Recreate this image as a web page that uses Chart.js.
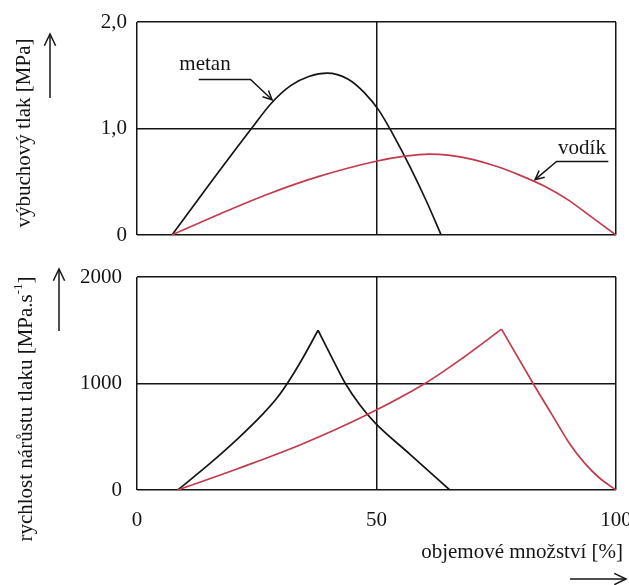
<!DOCTYPE html>
<html>
<head>
<meta charset="utf-8">
<script src="https://cdn.jsdelivr.net/npm/chart.js@4/dist/chart.umd.min.js"></script>
<style>
  html, body { margin: 0; padding: 0; background: #fff; }
  #wrap { position: relative; width: 629px; height: 585px; overflow: hidden; }
  canvas { position: absolute; left: 0; top: 0; }
</style>
</head>
<body>
<div id="wrap">
  <canvas id="topChart" width="629" height="585"></canvas>
  <canvas id="bottomChart" width="629" height="585"></canvas>
</div>
<script>
// Výbuchový tlak a rychlost nárůstu tlaku — metan / vodík

const xTicks = [0, 50, 100];
const xTickLabels = ['0', '50', '100'];

const pressureTicks = [0, 1, 2];
const pressureTickLabels = ['0', '1,0', '2,0'];

const rateTicks = [0, 1000, 2000];
const rateTickLabels = ['0', '1000', '2000'];

// horní graf — výbuchový tlak [MPa]
const metanPressX = [7.3, 15.5, 23.9, 28, 32, 36, 39.7, 44, 47.5, 50.5, 53.5, 57, 60.5, 63.5];
const metanPressY = [0, 0.5, 1.0, 1.235, 1.4, 1.49, 1.52, 1.465, 1.335, 1.17, 0.94, 0.64, 0.31, 0];

const vodikPressX = [7.3, 17.4, 27.7, 38, 49.7, 55.9, 61, 65, 70, 75, 80, 85, 90, 95, 100];
const vodikPressY = [0, 0.2, 0.39, 0.55, 0.69, 0.74, 0.76, 0.75, 0.71, 0.645, 0.56, 0.46, 0.33, 0.165, 0];

// dolní graf — rychlost nárůstu tlaku [MPa.s-1], vrchol je ostrý
const metanRateX = [8.5, 15, 21, 26, 29.5, 32.5, 35, 37.8, 40.5, 43.5, 46.5, 49.7, 57, 65.3];
const metanRateY = [0, 240, 480, 700, 880, 1080, 1270, 1500, 1260, 1000, 800, 630, 335, 0];

const vodikRateX = [8.5, 21, 34, 48.3, 60.1, 68, 76.1, 82.7, 86.6, 90.4, 93.5, 96.5, 100];
const vodikRateY = [0, 200, 423, 714, 1000, 1240, 1510, 1000, 710, 430, 250, 115, 0];

const FONT = '"Liberation Serif", "Times New Roman", serif';
const INK = '#151515';
const RED = '#c23b4c';

const toPoints = (xs, ys) => xs.map((x, i) => ({ x, y: ys[i] }));

// rozdělí křivku ve vrcholu na dvě hladké větve
function splitAtPeak(xs, ys) {
  const k = ys.indexOf(Math.max(...ys));
  return [
    toPoints(xs.slice(0, k + 1), ys.slice(0, k + 1)),
    toPoints(xs.slice(k), ys.slice(k)),
  ];
}

function drawArrow(ctx, pts, head) {
  ctx.beginPath();
  ctx.moveTo(pts[0][0], pts[0][1]);
  for (let i = 1; i < pts.length; i++) ctx.lineTo(pts[i][0], pts[i][1]);
  ctx.stroke();
  const [x1, y1] = pts[pts.length - 2];
  const [x2, y2] = pts[pts.length - 1];
  const a = Math.atan2(y2 - y1, x2 - x1);
  ctx.beginPath();
  ctx.moveTo(x2 - head * Math.cos(a - 0.45), y2 - head * Math.sin(a - 0.45));
  ctx.lineTo(x2, y2);
  ctx.lineTo(x2 - head * Math.cos(a + 0.45), y2 - head * Math.sin(a + 0.45));
  ctx.stroke();
}

// popisky křivek (metan, vodík) se šipkou — v datových souřadnicích
const curveLabelsPlugin = {
  id: 'curveLabels',
  afterDatasetsDraw(chart) {
    const labels = chart.config.options._curveLabels;
    if (!labels) return;
    const { ctx, scales } = chart;
    const px = (p) => [scales.x.getPixelForValue(p[0]), scales.y.getPixelForValue(p[1])];
    ctx.save();
    ctx.strokeStyle = INK;
    ctx.fillStyle = INK;
    ctx.lineWidth = 1.5;
    ctx.font = '21px ' + FONT;
    ctx.textAlign = 'center';
    ctx.textBaseline = 'middle';
    for (const l of labels) {
      const [tx, ty] = px(l.at);
      ctx.fillText(l.text, tx, ty);
      drawArrow(ctx, l.leader.map(px), 10);
    }
    ctx.restore();
  },
};

// názvy os a šipky
const axisTitlesPlugin = {
  id: 'axisTitles',
  afterDraw(chart) {
    const { ctx } = chart;
    ctx.save();
    ctx.fillStyle = INK;
    ctx.strokeStyle = INK;
    ctx.lineWidth = 1.5;
    ctx.font = '21px ' + FONT;
    ctx.textBaseline = 'middle';

    // horní osa y
    ctx.save();
    ctx.translate(24, 133);
    ctx.rotate(-Math.PI / 2);
    ctx.textAlign = 'center';
    ctx.fillText('výbuchový tlak [MPa]', 0, 0);
    ctx.restore();

    // dolní osa y s horním indexem
    ctx.save();
    ctx.translate(26, 409);
    ctx.rotate(-Math.PI / 2);
    ctx.textAlign = 'left';
    const main = 'rychlost nárůstu tlaku [MPa.s';
    const sup = '-1';
    const tail = ']';
    const wMain = ctx.measureText(main).width;
    ctx.font = '13px ' + FONT;
    const wSup = ctx.measureText(sup).width;
    ctx.font = '21px ' + FONT;
    const wTail = ctx.measureText(tail).width;
    let x0 = -(wMain + wSup + wTail) / 2;
    ctx.fillText(main, x0, 0);
    x0 += wMain;
    ctx.font = '13px ' + FONT;
    ctx.fillText(sup, x0, -7);
    x0 += wSup;
    ctx.font = '21px ' + FONT;
    ctx.fillText(tail, x0, 0);
    ctx.restore();

    // osa x
    ctx.textAlign = 'right';
    ctx.fillText('objemové množství [%]', 623, 552);

    drawArrow(ctx, [[50, 98], [50, 34]], 13);
    drawArrow(ctx, [[59, 331], [59, 269]], 13);
    drawArrow(ctx, [[570, 579], [626, 579]], 13);
    ctx.restore();
  },
};

function makeOptions(cfg) {
  return {
    responsive: false,
    animation: false,
    layout: { padding: { left: 0, right: 13, top: cfg.top, bottom: cfg.bottomPad } },
    plugins: { legend: { display: false }, tooltip: { enabled: false } },
    _curveLabels: cfg.curveLabels,
    scales: {
      x: {
        type: 'linear',
        min: 0,
        max: 100,
        afterBuildTicks: (s) => { s.ticks = xTicks.map((v) => ({ value: v })); },
        afterFit: (s) => { s.height = cfg.xHeight; s.paddingLeft = 0; s.paddingRight = 0; },
        ticks: {
          display: cfg.showX,
          padding: 18,
          color: INK,
          font: { family: FONT, size: 21 },
          callback: (v) => xTickLabels[xTicks.indexOf(v)],
        },
        grid: { color: INK, lineWidth: 1.5, drawTicks: false },
        border: { display: false },
      },
      y: {
        min: cfg.yTicks[0],
        max: cfg.yTicks[cfg.yTicks.length - 1],
        afterBuildTicks: (s) => { s.ticks = cfg.yTicks.map((v) => ({ value: v })); },
        afterFit: (s) => { s.width = 137; s.paddingTop = 0; s.paddingBottom = 0; },
        ticks: {
          padding: cfg.yPad,
          color: INK,
          font: { family: FONT, size: 21 },
          callback: (v) => cfg.yTickLabels[cfg.yTicks.indexOf(v)],
        },
        grid: { color: INK, lineWidth: 1.5, drawTicks: false },
        border: { display: false },
      },
    },
  };
}

function lineDataset(label, points, color) {
  return {
    label,
    data: points,
    borderColor: color,
    borderWidth: 1.7,
    pointRadius: 0,
    fill: false,
    cubicInterpolationMode: 'monotone',
  };
}

new Chart(document.getElementById('topChart').getContext('2d'), {
  type: 'line',
  plugins: [curveLabelsPlugin],
  data: {
    datasets: [
      lineDataset('vodík', toPoints(vodikPressX, vodikPressY), RED),
      lineDataset('metan', toPoints(metanPressX, metanPressY), INK),
    ],
  },
  options: makeOptions({
    top: 22,
    bottomPad: 585 - 235,
    xHeight: 0,
    showX: false,
    yTicks: pressureTicks,
    yTickLabels: pressureTickLabels,
    yPad: 10,
    curveLabels: [
      { text: 'metan', at: [14.2, 1.6], leader: [[12.9, 1.46], [23.7, 1.46], [28.2, 1.27]] },
      { text: 'vodík', at: [92.9, 0.81], leader: [[98.4, 0.69], [87.6, 0.69], [83.1, 0.52]] },
    ],
  }),
});

const [vodikRise, vodikFall] = splitAtPeak(vodikRateX, vodikRateY);
const [metanRise, metanFall] = splitAtPeak(metanRateX, metanRateY);

new Chart(document.getElementById('bottomChart').getContext('2d'), {
  type: 'line',
  plugins: [axisTitlesPlugin],
  data: {
    datasets: [
      lineDataset('vodík', vodikRise, RED),
      lineDataset('vodík', vodikFall, RED),
      lineDataset('metan', metanRise, INK),
      lineDataset('metan', metanFall, INK),
    ],
  },
  options: makeOptions({
    top: 277,
    bottomPad: 0,
    xHeight: 95,
    showX: true,
    yTicks: rateTicks,
    yTickLabels: rateTickLabels,
    yPad: 15,
  }),
});
</script>
</body>
</html>
